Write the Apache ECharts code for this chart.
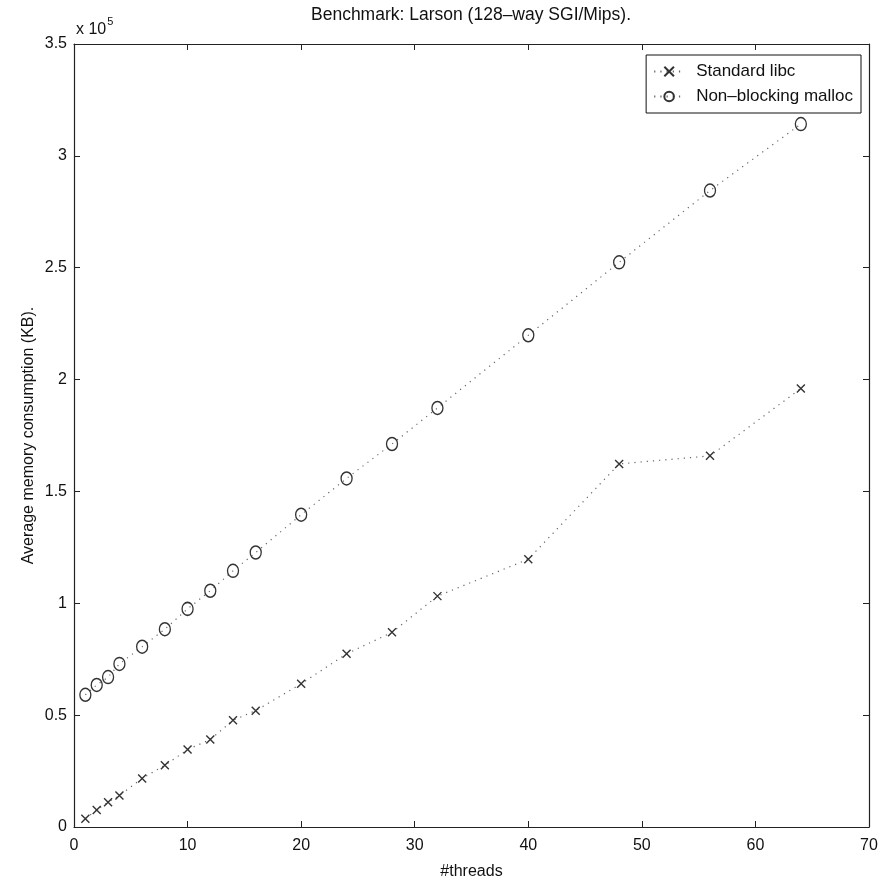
<!DOCTYPE html>
<html>
<head>
<meta charset="utf-8">
<script src="https://cdn.jsdelivr.net/npm/echarts@6/dist/echarts.min.js"></script>
<style>
  html, body { margin: 0; padding: 0; background: #fff; }
  #chart { width: 892px; height: 885px; }
</style>
</head>
<body>
<div id="chart"></div>
<script>
  // thread counts on the x axis
  const threads = [1, 2, 3, 4, 6, 8, 10, 12, 14, 16, 20, 24, 28, 32, 40, 48, 56, 64]
  // average memory consumption in KB
  const standardLibc = [3700, 7600, 11100, 14100, 21700, 27600, 34600, 39100, 47700, 52000,
    64000, 77400, 87000, 103200, 119700, 162300, 165900, 196000]
  const nonBlockingMalloc = [59100, 63500, 67000, 72900, 80600, 88400, 97500, 105600, 114500, 122700,
    139600, 155800, 171200, 187300, 219800, 252400, 284500, 314200]

  const seriesNames = ['Standard libc', 'Non–blocking malloc']
  const titleText = 'Benchmark: Larson (128–way SGI/Mips).'

  const font = 'Liberation Sans, Arial, sans-serif'
  const axisColor = '#222'

  const chart = echarts.init(document.getElementById('chart'))

  function boxAxis(pos, isX, showLabels) {
    return {
      type: 'value',
      position: pos,
      min: 0,
      max: isX ? 70 : 350000,
      interval: isX ? 10 : 50000,
      axisLine: { show: true, onZero: false, lineStyle: { color: axisColor, width: 1.2 } },
      axisTick: { show: true, inside: true, length: 6, lineStyle: { color: axisColor } },
      splitLine: { show: false },
      axisLabel: {
        show: showLabels,
        color: '#111',
        fontFamily: font,
        fontSize: 16,
        margin: isX ? 11 : 7,
        formatter: isX ? '{value}' : (v => String(v / 100000))
      }
    }
  }

  const xMain = boxAxis('bottom', true, true)
  xMain.name = '#threads'
  xMain.nameLocation = 'middle'
  xMain.nameGap = 37
  xMain.nameMoveOverlap = false
  xMain.nameTextStyle = { color: '#111', fontFamily: font, fontSize: 16 }

  const yMain = boxAxis('left', false, true)
  yMain.name = 'Average memory consumption (KB).'
  yMain.nameLocation = 'middle'
  yMain.nameGap = 37
  yMain.nameMoveOverlap = false
  yMain.nameTextStyle = { color: '#111', fontFamily: font, fontSize: 16 }

  const option = {
    backgroundColor: '#fff',
    animation: false,
    grid: { left: 74, right: 23, top: 44, bottom: 58, containLabel: false },
    xAxis: [xMain, boxAxis('top', true, false)],
    yAxis: [yMain, boxAxis('right', false, false)],
    legend: {
      orient: 'vertical',
      right: 31,
      top: 55,
      backgroundColor: '#fff',
      borderColor: '#111',
      borderWidth: 1,
      padding: [8, 8, 8, 7],
      itemGap: 8,
      itemWidth: 30,
      itemHeight: 12,
      textStyle: { color: '#111', fontFamily: font, fontSize: 17, padding: [0, 0, 0, 7] },
      data: seriesNames
    },
    graphic: [
      {
        type: 'text',
        left: 311,
        top: 6,
        style: { text: titleText, fill: '#111', font: '17.5px ' + font, textAlign: 'left' }
      },
      {
        type: 'text',
        x: 76,
        y: 16,
        style: {
          text: '{b|x 10}{s|5}',
          fill: '#111',
          rich: {
            b: { fontFamily: font, fontSize: 16, fill: '#111', verticalAlign: 'bottom' },
            s: { fontFamily: font, fontSize: 11, fill: '#111', padding: [0, 0, 11, 1] }
          }
        }
      }
    ],
    series: [
      {
        name: seriesNames[0],
        type: 'line',
        data: threads.map((t, i) => [t, standardLibc[i]]),
        symbol: 'path://M0,0L10,10M10,0L0,10',
        symbolSize: 8,
        itemStyle: { color: 'none', borderColor: '#333', borderWidth: 1.4 },
        lineStyle: { color: '#666', width: 1.2, type: [1.2, 5] }
      },
      {
        name: seriesNames[1],
        type: 'line',
        data: threads.map((t, i) => [t, nonBlockingMalloc[i]]),
        symbol: 'path://M0,6a5,6 0 1,0 10,0a5,6 0 1,0 -10,0',
        symbolSize: [11, 13],
        itemStyle: { color: 'none', borderColor: '#333', borderWidth: 1.4 },
        lineStyle: { color: '#666', width: 1.2, type: [1.2, 5] }
      }
    ]
  }

  chart.setOption(option)
</script>
</body>
</html>
